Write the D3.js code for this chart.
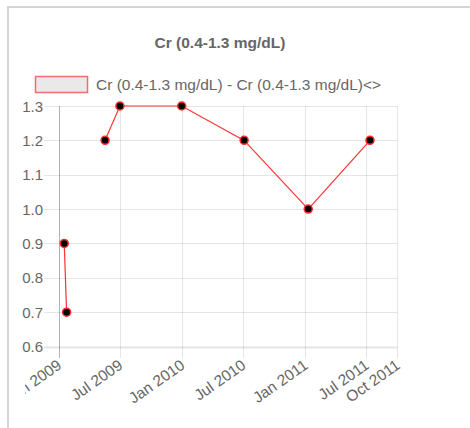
<!DOCTYPE html>
<html>
<head>
<meta charset="utf-8">
<script src="https://cdn.jsdelivr.net/npm/d3@7"></script>
<style>
body { margin: 0; background: #fff; }
svg { display: block; font-family: "Liberation Sans", Arial, Helvetica, sans-serif; }
</style>
</head>
<body>
<script>
var title = 'Cr (0.4-1.3 mg/dL)';
var legendLabel = 'Cr (0.4-1.3 mg/dL) - Cr (0.4-1.3 mg/dL)<>';

// one null keeps the line broken between Jan and May 2009
var dates  = ['2009-01-18', '2009-01-25', '2009-03-20', '2009-05-19', '2009-07-02',
              '2010-01-01', '2010-07-05', '2011-01-11', '2011-07-13'];
var values = [0.9, 0.7, null, 1.2, 1.3, 1.3, 1.2, 1.0, 1.2];

var tickDates  = ['2009-01-01', '2009-07-01', '2010-01-01', '2010-07-01',
                  '2011-01-01', '2011-07-01', '2011-10-01'];
var tickLabels = ['Jan 2009', 'Jul 2009', 'Jan 2010', 'Jul 2010',
                  'Jan 2011', 'Jul 2011', 'Oct 2011'];
var yTicks = [0.6, 0.7, 0.8, 0.9, 1.0, 1.1, 1.2, 1.3];

var width = 470, height = 428;
var plotLeft = 58.5, plotRight = 397, plotTop = 106, plotBottom = 346.5;
var textColor = '#666';
var grid = 'rgba(0,0,0,0.1)';

var parse = d3.utcParse('%Y-%m-%d');
var points = dates.map(function (d, i) { return { date: parse(d), value: values[i] }; });

var x = d3.scaleUtc()
    .domain([parse('2009-01-01'), parse('2011-10-01')])
    .range([plotLeft, plotRight]);
var y = d3.scaleLinear()
    .domain([0.6, 1.3])
    .range([plotBottom, plotTop]);

var svg = d3.select('body').append('svg')
    .attr('width', width)
    .attr('height', height);

// panel frame (cut off on the right and bottom)
svg.append('path')
    .attr('d', 'M8,' + height + 'V7H' + width)
    .attr('fill', 'none')
    .attr('stroke', '#d6d6d6')
    .attr('stroke-width', 2);

svg.append('text')
    .attr('x', 220)
    .attr('y', 42)
    .attr('text-anchor', 'middle')
    .attr('dominant-baseline', 'central')
    .attr('font-size', 15.5)
    .attr('font-weight', 'bold')
    .attr('fill', '#666')
    .text(title);

// legend
svg.append('rect')
    .attr('x', 35.5)
    .attr('y', 76.5)
    .attr('width', 52)
    .attr('height', 16)
    .attr('fill', '#e9e9e9')
    .attr('stroke', '#f36c6c')
    .attr('stroke-width', 1.5);
svg.append('text')
    .attr('x', 96)
    .attr('y', 84.5)
    .attr('dominant-baseline', 'central')
    .attr('font-size', 15.5)
    .attr('fill', textColor)
    .text(legendLabel);

// horizontal grid + y ticks
svg.selectAll('line.hgrid')
    .data(yTicks)
    .enter().append('line')
        .attr('class', 'hgrid')
        .attr('x1', 44)
        .attr('x2', plotRight)
        .attr('y1', function (d) { return Math.round(y(d)) + 0.5; })
        .attr('y2', function (d) { return Math.round(y(d)) + 0.5; })
        .attr('stroke', grid)
        .attr('stroke-width', function (d) { return d == 0.6 ? 2 : 1; });

svg.selectAll('text.ytick')
    .data(yTicks)
    .enter().append('text')
        .attr('class', 'ytick')
        .attr('x', 43)
        .attr('y', function (d) { return y(d); })
        .attr('text-anchor', 'end')
        .attr('dominant-baseline', 'central')
        .attr('font-size', 15)
        .attr('fill', textColor)
        .text(function (d) { return d3.format('.1f')(d); });

// vertical grid + x ticks
svg.selectAll('line.vgrid')
    .data(tickDates)
    .enter().append('line')
        .attr('class', 'vgrid')
        .attr('x1', function (d) { return Math.round(x(parse(d))) + 0.5; })
        .attr('x2', function (d) { return Math.round(x(parse(d))) + 0.5; })
        .attr('y1', plotTop)
        .attr('y2', 358)
        .attr('stroke', function (d, i) { return i == 0 ? 'rgba(0,0,0,0.3)' : grid; });

// the first date label runs off the left edge of the original canvas
svg.append('clipPath')
    .attr('id', 'canvas-clip')
    .append('rect')
        .attr('x', 25)
        .attr('y', 0)
        .attr('width', width)
        .attr('height', height);

svg.append('g')
    .attr('clip-path', 'url(#canvas-clip)')
    .selectAll('text')
    .data(tickDates)
    .enter().append('text')
        .attr('transform', function (d) {
            return 'translate(' + (x(parse(d)) + 1) + ',363) rotate(-35)';
        })
        .attr('text-anchor', 'end')
        .attr('dominant-baseline', 'central')
        .attr('font-size', 15.5)
        .attr('fill', textColor)
        .text(function (d, i) { return tickLabels[i]; });

// series
var line = d3.line()
    .defined(function (d) { return d.value != null; })
    .x(function (d) { return x(d.date); })
    .y(function (d) { return y(d.value); });

svg.append('path')
    .datum(points)
    .attr('d', line)
    .attr('fill', 'none')
    .attr('stroke', '#ff3333')
    .attr('stroke-width', 1.2);

svg.selectAll('circle')
    .data(points.filter(function (d) { return d.value != null; }))
    .enter().append('circle')
        .attr('cx', function (d) { return x(d.date); })
        .attr('cy', function (d) { return y(d.value); })
        .attr('r', 4)
        .attr('fill', '#000')
        .attr('stroke', '#ff2a2a')
        .attr('stroke-width', 1.5);
</script>
</body>
</html>
